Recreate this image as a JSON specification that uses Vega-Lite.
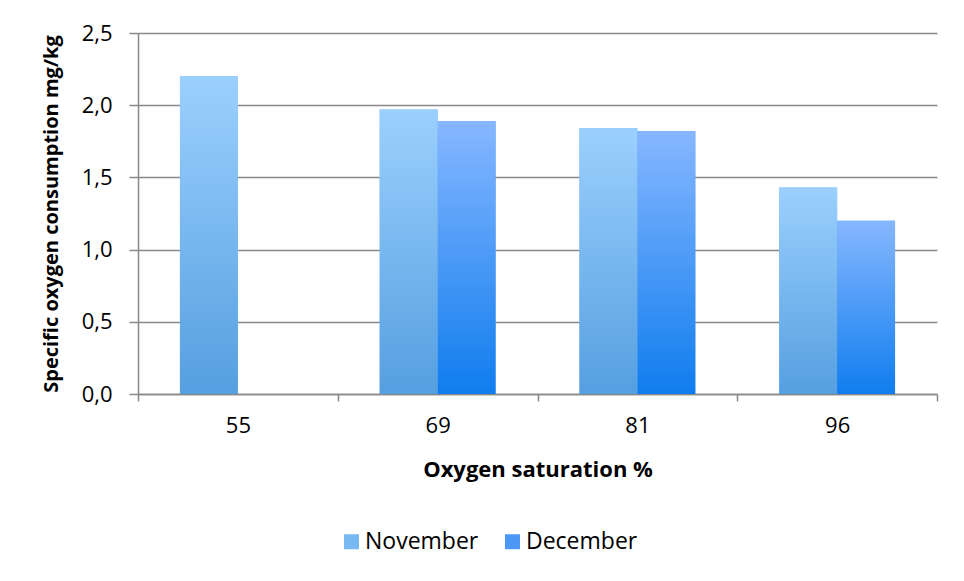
{
  "$schema": "https://vega.github.io/schema/vega-lite/v6.json",
  "autosize": {"type": "none"},
  "width": 799,
  "height": 361,
  "padding": {"left": 138, "top": 33, "right": 27, "bottom": 187},
  "background": "white",
  "config": {
    "font": "Open Sans",
    "view": {"stroke": null},
    "axis": {
      "labelFont": "Open Sans",
      "titleFont": "Open Sans",
      "labelColor": "#000000",
      "titleColor": "#000000",
      "domainColor": "#898989",
      "tickColor": "#898989",
      "gridColor": "#898989",
      "domainWidth": 1.5,
      "tickWidth": 1.5,
      "gridWidth": 1.5
    }
  },
  "data": {
    "values": [
      {"saturation": "55", "month": "November", "consumption": 2.2},
      {"saturation": "69", "month": "November", "consumption": 1.97},
      {"saturation": "69", "month": "December", "consumption": 1.89},
      {"saturation": "81", "month": "November", "consumption": 1.84},
      {"saturation": "81", "month": "December", "consumption": 1.82},
      {"saturation": "96", "month": "November", "consumption": 1.43},
      {"saturation": "96", "month": "December", "consumption": 1.2}
    ]
  },
  "encoding": {
    "x": {
      "field": "saturation",
      "type": "nominal",
      "sort": ["55", "69", "81", "96"],
      "scale": {"paddingInner": 0, "paddingOuter": 0},
      "axis": {
        "title": "Oxygen saturation %",
        "labelAngle": 0,
        "labelFontSize": 22,
        "labelPadding": 14,
        "tickBand": "extent",
        "tickSize": 7,
        "titleFontSize": 22,
        "titleFontWeight": "bold",
        "titlePadding": 23
      }
    },
    "xOffset": {
      "field": "month",
      "type": "nominal",
      "scale": {"domain": ["November", "December"], "paddingInner": 0, "paddingOuter": 0.724}
    },
    "y": {
      "field": "consumption",
      "type": "quantitative",
      "scale": {"domain": [0, 2.5], "nice": false},
      "axis": {
        "title": "Specific oxygen consumption mg/kg",
        "values": [0, 0.5, 1, 1.5, 2, 2.5],
        "labelExpr": "replace(format(datum.value, '.1f'), '.', ',')",
        "labelFontSize": 22,
        "labelPadding": 17,
        "tickSize": 9,
        "grid": true,
        "titleFontSize": 20,
        "titleFontWeight": "bold",
        "titlePadding": 20
      }
    }
  },
  "layer": [
    {
      "mark": {"type": "bar"},
      "encoding": {
        "color": {
          "field": "month",
          "type": "nominal",
          "scale": {"domain": ["November", "December"], "range": ["#79B9F1", "#4C98F6"]},
          "legend": {
            "title": null,
            "orient": "none",
            "direction": "horizontal",
            "legendX": 202,
            "legendY": 497,
            "symbolType": "square",
            "symbolSize": 225,
            "symbolStrokeWidth": 0,
            "labelFont": "Open Sans",
            "labelFontSize": 23,
            "labelColor": "#000000",
            "columnPadding": 22,
            "labelOffset": 2
          }
        }
      }
    },
    {
      "transform": [{"filter": "datum.month === 'November'"}],
      "mark": {
        "type": "bar",
        "color": {
          "gradient": "linear",
          "x1": 0, "y1": 0, "x2": 0, "y2": 1,
          "stops": [
            {"offset": 0, "color": "#9BD0FE"},
            {"offset": 1, "color": "#559FE0"}
          ]
        }
      }
    },
    {
      "transform": [{"filter": "datum.month === 'December'"}],
      "mark": {
        "type": "bar",
        "color": {
          "gradient": "linear",
          "x1": 0, "y1": 0, "x2": 0, "y2": 1,
          "stops": [
            {"offset": 0, "color": "#86B7FF"},
            {"offset": 1, "color": "#107DEE"}
          ]
        }
      }
    }
  ]
}
